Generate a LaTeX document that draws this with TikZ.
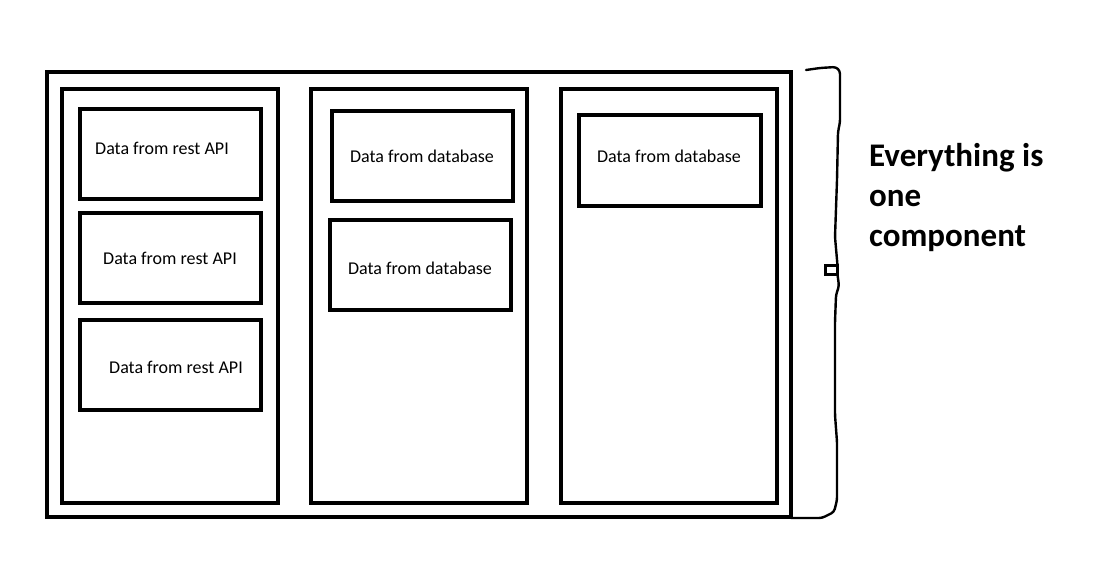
\documentclass[tikz,border=0pt]{standalone}
\usepackage{fontspec}
\setmainfont{Carlito}
\begin{document}
\begin{tikzpicture}[x=1pt,y=-1pt,
  frame/.style={draw=black,line width=4pt,inner sep=0pt,outer sep=0pt,anchor=north west},
  lbl/.style={font=\fontsize{18}{20}\selectfont,inner sep=0pt,text=black},
  big/.style={font=\fontsize{33}{40}\selectfont\bfseries,inner sep=0pt,anchor=base west},
  brace/.style={draw=black,line width=2.4pt,line join=round,line cap=round,rounded corners=3pt}]
\useasboundingbox (0,0) rectangle (1115,569);
% outer frame
\node[frame,minimum width=744pt,minimum height=445pt] (outer) at (47,72) {};
% columns
\node[frame,minimum width=216pt,minimum height=414pt] (c1) at (62,89) {};
\node[frame,minimum width=216pt,minimum height=414pt] (c2) at (311,89) {};
\node[frame,minimum width=216pt,minimum height=414pt] (c3) at (561,89) {};
% inner boxes
\node[frame,minimum width=181pt,minimum height=90pt] (b11) at (80,109) {};
\node[frame,minimum width=181pt,minimum height=90pt] (b12) at (80,213) {};
\node[frame,minimum width=181pt,minimum height=90pt] (b13) at (80,320) {};
\node[frame,minimum width=181pt,minimum height=90pt] (b21) at (332,111) {};
\node[frame,minimum width=181pt,minimum height=90pt] (b22) at (330,220) {};
\node[frame,minimum width=182pt,minimum height=91pt] (b31) at (579,115) {};
% labels
\node[lbl] (t11) at (162,148) {Data from rest API};
\node[lbl] (t12) at (170,258) {Data from rest API};
\node[lbl] (t13) at (176,367) {Data from rest API};
\node[lbl] (t21) at (422,156) {Data from database};
\node[lbl] (t22) at (420,268) {Data from database};
\node[lbl] (t31) at (669,156) {Data from database};
% hand-drawn brace
\coordinate (bs) at (791,518);
\coordinate (bt) at (806,70);
\node[draw=black,line width=2.2pt,minimum width=12pt,minimum height=9pt,inner sep=0pt,outer sep=0pt] (sq) at (831.5,270) {};
\draw[brace] (bt) -- (820,68) -- (836,67) -- (840,71) -- (840,122) -- (838,132) -- (837,180) -- (835,237) -- (sq.north east);
\draw[brace] (sq.south east) -- (839,286) -- (836,295) -- (835,322) -- (835,415) -- (837,442) -- (837,500) -- (834,512) -- (822,518) -- (bs);
% side text
\node[big] (txt1) at (869,167) {Everything is};
\node[big] (txt2) at (869,207) {one};
\node[big] (txt3) at (869,247) {component};
\end{tikzpicture}
\end{document}
